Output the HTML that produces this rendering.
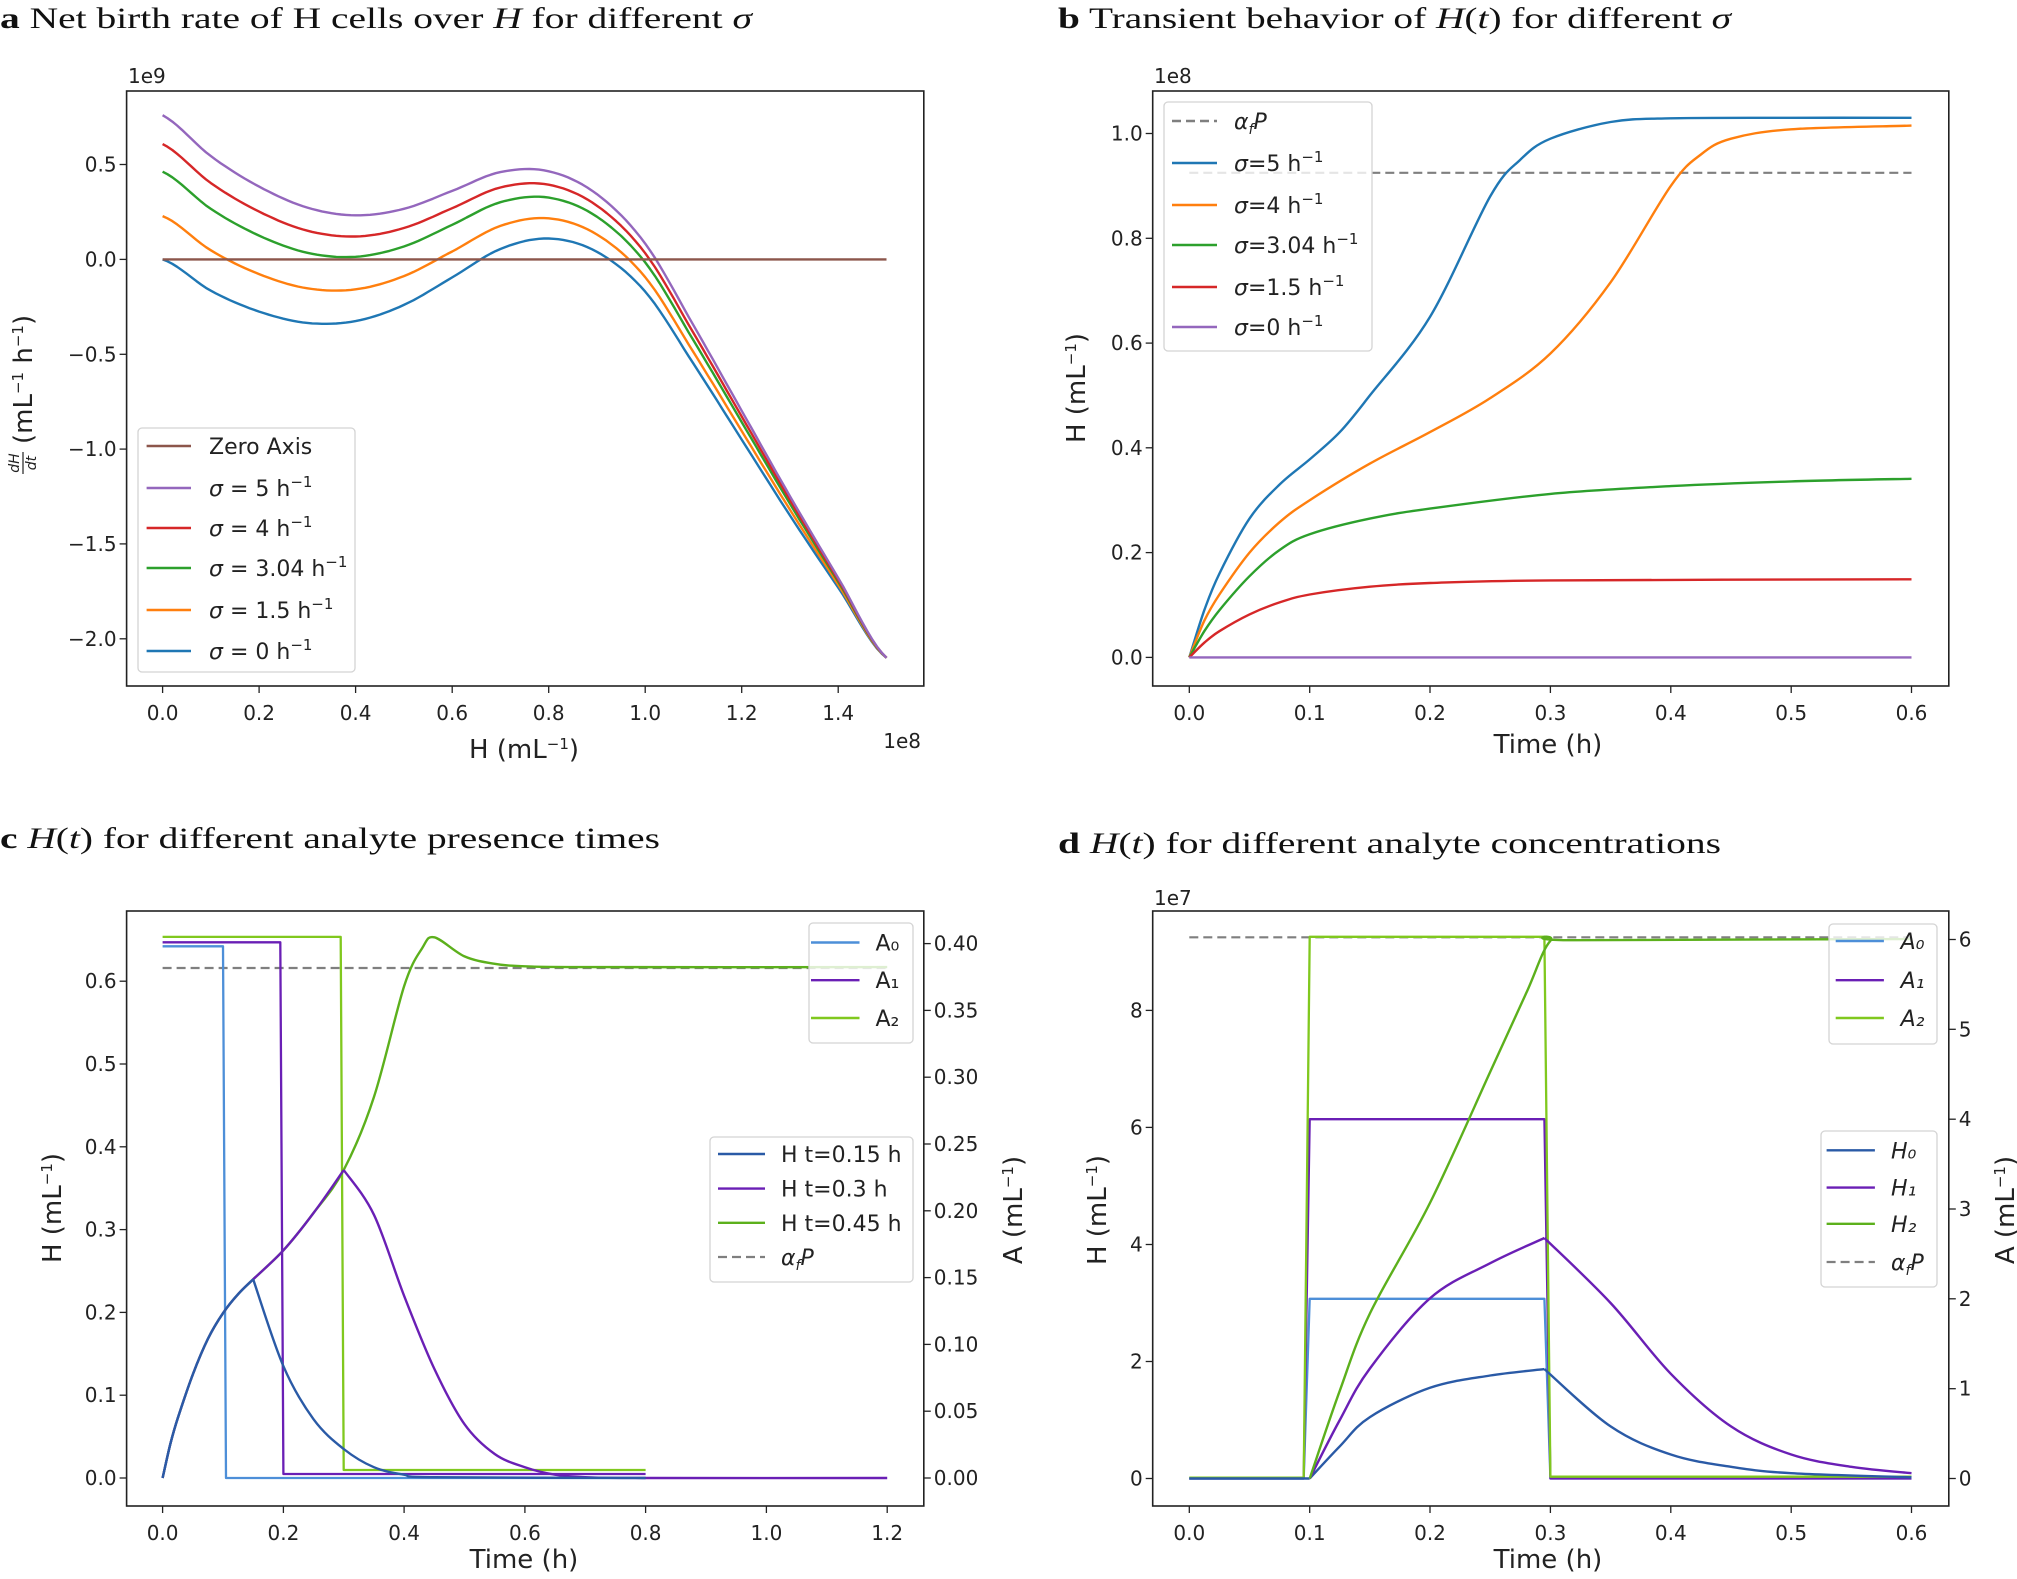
<!DOCTYPE html>
<html><head><meta charset="utf-8"><style>
html,body{margin:0;padding:0;background:#fff;}
svg{display:block;}
</style></head><body>
<svg id="s" xmlns="http://www.w3.org/2000/svg" width="2017" height="1579" viewBox="0 0 2017 1579"></svg>
<script>
const S=[];
const DJ='font-family="DejaVu Sans, Liberation Sans, sans-serif"';
const SER='font-family="Liberation Serif, serif"';
function f(n){return n.toFixed(1);}
function line(x1,y1,x2,y2,c,w,extra){S.push(`<line x1="${f(x1)}" y1="${f(y1)}" x2="${f(x2)}" y2="${f(y2)}" stroke="${c}" stroke-width="${w}" ${extra||''}/>`);}
function txt(x,y,content,size,anchor,extra){S.push(`<text x="${f(x)}" y="${f(y)}" font-size="${size}" text-anchor="${anchor||'start'}" fill="#222" ${DJ} ${extra||''}>${content}</text>`);}
function poly(pts,c,w,extra){S.push(`<polyline points="${pts.map(p=>f(p[0])+','+f(p[1])).join(' ')}" fill="none" stroke="${c}" stroke-width="${w}" stroke-linejoin="round" ${extra||''}/>`);}
function spline(pts,c,w){let d=`M${f(pts[0][0])},${f(pts[0][1])}`;const n=pts.length;
 for(let i=0;i<n-1;i++){const p0=pts[Math.max(i-1,0)],p1=pts[i],p2=pts[i+1],p3=pts[Math.min(i+2,n-1)];
  const c1=[p1[0]+(p2[0]-p0[0])/6,p1[1]+(p2[1]-p0[1])/6],c2=[p2[0]-(p3[0]-p1[0])/6,p2[1]-(p3[1]-p1[1])/6];
  d+=` C${f(c1[0])},${f(c1[1])} ${f(c2[0])},${f(c2[1])} ${f(p2[0])},${f(p2[1])}`;}
 S.push(`<path d="${d}" fill="none" stroke="${c}" stroke-width="${w}" stroke-linejoin="round"/>`);}
function box(x1,y1,x2,y2){S.push(`<rect x="${x1}" y="${y1}" width="${x2-x1}" height="${y2-y1}" fill="none" stroke="#222" stroke-width="1.6"/>`);}
function xt(vals,X,yb,ly,fmt){vals.forEach(v=>{const x=X(v);line(x,yb,x,yb+7,'#222',1.3);txt(x,ly,fmt(v),20,'middle');});}
function ytl(vals,Y,xl,fmt){vals.forEach(v=>{const y=Y(v);line(xl-7,y,xl,y,'#222',1.3);txt(xl-10,y+7,fmt(v),20,'end');});}
function ytr(vals,Y,xr,fmt){vals.forEach(v=>{const y=Y(v);line(xr,y,xr+7,y,'#222',1.3);txt(xr+10,y+7,fmt(v),20,'start');});}
function fm(d){return v=>{let s=Math.abs(v).toFixed(d);return (v<-1e-9?'−':'')+s;};}
function rng(a,b,s){const r=[];for(let v=a;v<=b+1e-9;v+=s)r.push(+v.toFixed(6));return r;}
function legbox(x1,y1,x2,y2){S.push(`<rect x="${x1}" y="${y1}" width="${x2-x1}" height="${y2-y1}" rx="4" fill="#fff" fill-opacity="0.8" stroke="#d4d4d4" stroke-width="1.3"/>`);}
function title(x,y,len,html){S.push(`<text x="${x}" y="${y}" font-size="30" ${SER} fill="#111" textLength="${len}" lengthAdjust="spacingAndGlyphs">${html}</text>`);}
function ylab(xb,ymid,len,html,size){S.push(`<text transform="translate(${xb},${ymid}) rotate(-90)" x="0" y="0" font-size="${size||26}" text-anchor="middle" fill="#222" ${DJ}>${html}</text>`);}
const afp='<tspan font-style="italic">α</tspan><tspan font-size="14" dy="5" font-style="italic">f</tspan><tspan dy="-5" font-style="italic">P</tspan>';
const BLUE='#1f77b4',ORG='#ff7f0e',GRN='#2ca02c',RED='#d62728',PUR='#9467bd',BRN='#8c564b',GRY='#7f7f7f';
const A0C='#4d8fd8',H0C='#2a5aa6',PC='#6a1fb5',A2C='#80c81e',H2C='#5cb01c';

// ---------- Panel a ----------
title(0,28,752,'<tspan font-weight="bold">a</tspan> Net birth rate of H cells over <tspan font-style="italic">H</tspan> for different <tspan font-style="italic">σ</tspan>');
{const X=h=>162.6+482.6*h,Y=v=>259.4-189.7*v;
 const g=[0,-0.165,-0.275,-0.335,-0.325,-0.24,-0.095,0.055,0.11,0.04,-0.17,-0.55,-0.95,-1.35,-1.73,-2.1];
 const cr=h=>{let i=Math.min(Math.floor(h/0.1),14);const t=h/0.1-i;const p0=g[Math.max(i-1,0)],p1=g[i],p2=g[i+1],p3=g[Math.min(i+2,15)];
  return 0.5*(2*p1+(-p0+p2)*t+(2*p0-5*p1+4*p2-p3)*t*t+(-p0+3*p1-3*p2+p3)*t*t*t);};
 [[0,BLUE],[1.5,ORG],[3.04,GRN],[4,RED],[5,PUR]].forEach(([s,c])=>{const pts=[];for(let h=0;h<=1.5001;h+=0.01){pts.push([X(h),Y(cr(h)+s*0.152*(1-h/1.5))]);}poly(pts,c,2.4);});
 line(X(0),Y(0),X(1.5),Y(0),BRN,2.4);
 box(126.6,91,923.8,686);
 xt(rng(0,1.4,0.2),X,686,720,fm(1));
 ytl(rng(-2,0.5,0.5),Y,126.6,fm(1));
 txt(128,83,'1e9',20);txt(921,748,'1e8',20,'end');
 txt(524,758,'H (mL<tspan dy="-9" font-size="15">−1</tspan><tspan dy="9">)</tspan>',26,'middle');
 S.push(`<g transform="translate(32,476) rotate(-90)"><text x="13" y="-13" font-size="14" text-anchor="middle" font-style="italic" fill="#222" ${DJ}>dH</text><line x1="2" y1="-9" x2="24" y2="-9" stroke="#222" stroke-width="1.2"/><text x="13" y="4" font-size="14" text-anchor="middle" font-style="italic" fill="#222" ${DJ}>dt</text><text x="32" y="0" font-size="26" fill="#222" ${DJ}>(mL<tspan dy="-9" font-size="15">−1</tspan><tspan dy="9"> h</tspan><tspan dy="-9" font-size="15">−1</tspan><tspan dy="9">)</tspan></text></g>`);
 legbox(138,428,355,672);
 const L=[[BRN,'Zero Axis'],[PUR,'<tspan font-style="italic">σ</tspan> = 5 h'],[RED,'<tspan font-style="italic">σ</tspan> = 4 h'],[GRN,'<tspan font-style="italic">σ</tspan> = 3.04 h'],[ORG,'<tspan font-style="italic">σ</tspan> = 1.5 h'],[BLUE,'<tspan font-style="italic">σ</tspan> = 0 h']];
 const ly=[446,488,528,568,610,651];
 L.forEach((e,i)=>{line(146.6,ly[i],191,ly[i],e[0],2.4);txt(209,ly[i]+8,e[1]+(i?'<tspan dy="-9" font-size="15">−1</tspan>':''),22);});
}

// ---------- Panel b ----------
title(1058,28,673,'<tspan font-weight="bold">b</tspan> Transient behavior of <tspan font-style="italic">H</tspan>(<tspan font-style="italic">t</tspan>) for different <tspan font-style="italic">σ</tspan>');
{const X=t=>1189.3+1203.7*t,Y=v=>657.4-523.9*v;
 const P=a=>a.map(p=>[X(p[0]),Y(p[1])]);
 line(X(0),Y(0.925),X(0.6),Y(0.925),GRY,2.2,'stroke-dasharray="9,5"');
 spline(P([[0,0],[0.0125,0.09],[0.025,0.16],[0.05,0.265],[0.075,0.33],[0.1,0.378],[0.125,0.43],[0.15,0.5],[0.2,0.65],[0.25,0.88],[0.275,0.95],[0.3,0.99],[0.35,1.022],[0.4,1.029],[0.5,1.03],[0.6,1.03]]),BLUE,2.4);
 spline(P([[0,0],[0.0125,0.07],[0.025,0.12],[0.05,0.2],[0.075,0.258],[0.1,0.30],[0.15,0.37],[0.2,0.43],[0.25,0.495],[0.3,0.58],[0.35,0.716],[0.4,0.9],[0.425,0.96],[0.45,0.99],[0.5,1.008],[0.6,1.015]]),ORG,2.4);
 spline(P([[0,0],[0.0125,0.05],[0.025,0.09],[0.05,0.155],[0.075,0.205],[0.1,0.235],[0.15,0.265],[0.2,0.284],[0.3,0.312],[0.4,0.327],[0.5,0.336],[0.6,0.341]]),GRN,2.4);
 spline(P([[0,0],[0.0125,0.028],[0.025,0.05],[0.05,0.082],[0.075,0.105],[0.1,0.12],[0.15,0.135],[0.2,0.142],[0.3,0.147],[0.6,0.149]]),RED,2.4);
 line(X(0),Y(0),X(0.6),Y(0),PUR,2.4);
 box(1152.7,91,1948.8,686);
 xt(rng(0,0.6,0.1),X,686,720,fm(1));
 ytl(rng(0,1.0,0.2),Y,1152.7,fm(1));
 txt(1154,83,'1e8',20);
 txt(1548,753,'Time (h)',26,'middle');
 ylab(1085,388,0,'H (mL<tspan dy="-9" font-size="15">−1</tspan><tspan dy="9">)</tspan>');
 legbox(1164,102,1372,351);
 const L=[[GRY,afp,1],[BLUE,'<tspan font-style="italic">σ</tspan>=5 h'],[ORG,'<tspan font-style="italic">σ</tspan>=4 h'],[GRN,'<tspan font-style="italic">σ</tspan>=3.04 h'],[RED,'<tspan font-style="italic">σ</tspan>=1.5 h'],[PUR,'<tspan font-style="italic">σ</tspan>=0 h']];
 const ly=[121,163,205,245,287,327];
 L.forEach((e,i)=>{line(1172,ly[i],1217,ly[i],e[0],2.4,e[2]?'stroke-dasharray="9,5"':'');txt(1234,ly[i]+8,e[1]+(i?'<tspan dy="-9" font-size="15">−1</tspan>':''),22);});
}

// ---------- Panel c ----------
title(0,848,660,'<tspan font-weight="bold">c</tspan> <tspan font-style="italic">H</tspan>(<tspan font-style="italic">t</tspan>) for different analyte presence times');
{const X=t=>162.6+603.8*t,YL=v=>1478-828*v,YR=v=>1478-1336*v;
 const PL=a=>a.map(p=>[X(p[0]),YL(p[1])]),PR=a=>a.map(p=>[X(p[0]),YR(p[1])]);
 line(X(0),YL(0.616),X(1.2),YL(0.616),GRY,2.2,'stroke-dasharray="9,5"');
 poly(PR([[0,0.398],[0.1,0.398],[0.105,0],[0.8,0]]),A0C,2.3);
 poly(PR([[0,0.401],[0.195,0.401],[0.2,0.003],[0.8,0.003]]),PC,2.3);
 poly(PR([[0,0.405],[0.295,0.405],[0.3,0.006],[0.8,0.006]]),A2C,2.3);
 const rise=[[0,0],[0.0125,0.04],[0.025,0.072],[0.05,0.125],[0.075,0.168],[0.1,0.199],[0.125,0.222],[0.15,0.24],[0.2,0.275],[0.25,0.32],[0.3,0.372]];
 spline(PL(rise.concat([[0.35,0.46],[0.4,0.594],[0.43,0.64],[0.45,0.653],[0.5,0.63],[0.55,0.621],[0.6,0.618],[0.7,0.617],[1.2,0.617]])),H2C,2.4);
 spline(PL(rise),PC,2.4);
 spline(PL([[0.3,0.372],[0.35,0.318],[0.4,0.22],[0.45,0.132],[0.5,0.065],[0.55,0.029],[0.6,0.013],[0.65,0.004],[0.7,0.001],[0.8,0],[1.2,0]]),PC,2.4);
 spline(PL(rise.slice(0,8)),H0C,2.4);
 spline(PL([[0.15,0.24],[0.2,0.135],[0.25,0.071],[0.3,0.035],[0.35,0.013],[0.4,0.004],[0.45,0.001],[0.8,0]]),H0C,2.4);
 box(126.6,911,923.8,1506);
 xt(rng(0,1.2,0.2),X,1506,1540,fm(1));
 ytl(rng(0,0.6,0.1),YL,126.6,fm(1));
 ytr(rng(0,0.4,0.05),YR,923.8,fm(2));
 txt(524,1568,'Time (h)',26,'middle');
 ylab(61,1208,0,'H (mL<tspan dy="-9" font-size="15">−1</tspan><tspan dy="9">)</tspan>');
 ylab(1022,1210,0,'A (mL<tspan dy="-9" font-size="15">−1</tspan><tspan dy="9">)</tspan>');
 legbox(809,923,913,1043);
 [[A0C,'A₀',942.5],[PC,'A₁',980.2],[A2C,'A₂',1018]].forEach(e=>{line(811,e[2],859.5,e[2],e[0],2.4);txt(875.5,e[2]+8,e[1],22);});
 legbox(710,1137,913,1282);
 [[H0C,'H t=0.15 h',1154],[PC,'H t=0.3 h',1188.6],[H2C,'H t=0.45 h',1222.8]].forEach(e=>{line(718,e[2],765,e[2],e[0],2.4);txt(781,e[2]+8,e[1],22);});
 line(718,1257,765,1257,GRY,2.2,'stroke-dasharray="9,5"');txt(781,1265,afp,22);
}

// ---------- Panel d ----------
title(1058,853,663,'<tspan font-weight="bold">d</tspan> <tspan font-style="italic">H</tspan>(<tspan font-style="italic">t</tspan>) for different analyte concentrations');
{const X=t=>1189.3+1203.7*t,YL=v=>1478.5-58.51*v,YR=v=>1478.5-89.83*v;
 const PL=a=>a.map(p=>[X(p[0]),YL(p[1])]),PR=a=>a.map(p=>[X(p[0]),YR(p[1])]);
 line(X(0),YL(9.25),X(0.6),YL(9.25),GRY,2.2,'stroke-dasharray="9,5"');
 poly(PR([[0,0],[0.095,0],[0.1,2.0],[0.295,2.0],[0.3,0],[0.6,0]]),A0C,2.3);
 poly(PR([[0,0],[0.095,0],[0.1,4.0],[0.295,4.0],[0.3,0],[0.6,0]]),PC,2.3);
 poly(PR([[0,0.01],[0.095,0.01],[0.1,6.03],[0.295,6.03],[0.3,0.02],[0.6,0.02]]),A2C,2.3);
 line(X(0),YL(0),X(0.1),YL(0),H0C,2.4);
 spline(PL([[0.1,0],[0.125,0.55],[0.15,1.05],[0.2,1.55],[0.25,1.76],[0.295,1.87]]),H0C,2.4);
 spline(PL([[0.295,1.87],[0.35,0.89],[0.4,0.41],[0.45,0.2],[0.5,0.09],[0.6,0.02]]),H0C,2.4);
 spline(PL([[0.1,0],[0.125,1.0],[0.15,1.88],[0.2,3.08],[0.25,3.68],[0.295,4.11]]),PC,2.4);
 spline(PL([[0.295,4.11],[0.35,3.0],[0.4,1.79],[0.45,0.89],[0.5,0.41],[0.55,0.2],[0.6,0.09]]),PC,2.4);
 spline(PL([[0.1,0],[0.125,1.5],[0.15,2.82],[0.2,4.71],[0.25,6.95],[0.28,8.3],[0.3,9.19],[0.32,9.2],[0.6,9.22]]),H2C,2.4);
 box(1152.7,911,1948.8,1506);
 xt(rng(0,0.6,0.1),X,1506,1540,fm(1));
 ytl([0,2,4,6,8],YL,1152.7,fm(0));
 ytr([0,1,2,3,4,5,6],YR,1948.8,fm(0));
 txt(1154,905,'1e7',20);
 txt(1548,1568,'Time (h)',26,'middle');
 ylab(1106,1210,0,'H (mL<tspan dy="-9" font-size="15">−1</tspan><tspan dy="9">)</tspan>');
 ylab(2014,1210,0,'A (mL<tspan dy="-9" font-size="15">−1</tspan><tspan dy="9">)</tspan>');
 legbox(1829,924,1937,1044);
 [[A0C,'A₀',941],[PC,'A₁',980.2],[A2C,'A₂',1018]].forEach(e=>{line(1835.7,e[2],1883.9,e[2],e[0],2.4);txt(1900.6,e[2]+8,e[1],22,'start','font-style="italic"');});
 legbox(1821,1131,1937,1287);
 [[H0C,'H₀',1150.3],[PC,'H₁',1187.6],[H2C,'H₂',1223.8]].forEach(e=>{line(1826.6,e[2],1874.9,e[2],e[0],2.4);txt(1891,e[2]+8,e[1],22,'start','font-style="italic"');});
 line(1826.6,1262,1874.9,1262,GRY,2.2,'stroke-dasharray="9,5"');txt(1891,1270,afp,22);
}
document.getElementById('s').innerHTML=S.join('');
</script>
</body></html>
